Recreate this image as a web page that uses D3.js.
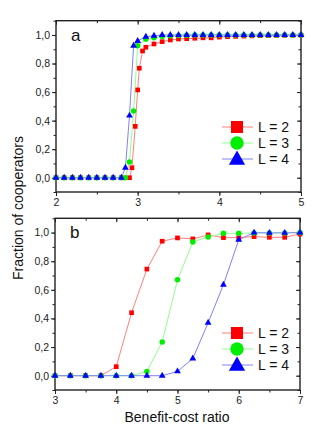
<!DOCTYPE html>
<html>
<head>
<meta charset="utf-8">
<script src="https://cdn.jsdelivr.net/npm/d3@7"></script>
<style>
  body { margin: 0; background: #fff; }
  svg { display: block; font-family: "Liberation Sans", Arial, sans-serif; }
</style>
</head>
<body>
<div id="chart"></div>
<script>
// panel a : x, then fraction for each L
var aRedX   = [2.0,2.1,2.2,2.3,2.4,2.5,2.6,2.7,2.8,2.9,2.93,2.97,3.0,3.02,3.06,3.1,3.2,3.3,3.4,3.5,3.6,3.7,3.8,3.9,4.0,4.1,4.2,4.3,4.4,4.5,4.6,4.7,4.8,4.9,5.0]
var aRedY   = [0,0,0,0,0,0,0,0,0,0,0.07,0.36,0.615,0.767,0.888,0.914,0.937,0.953,0.965,0.972,0.974,0.977,0.98,0.98,0.985,0.988,0.99,0.992,0.994,0.995,0.996,0.997,0.998,0.998,0.999]
var aGreenX = [2.0,2.1,2.2,2.3,2.4,2.5,2.6,2.7,2.8,2.85,2.9,2.95,3.0,3.1,3.2,3.3,3.4,3.5,3.6,3.7,3.8,3.9,4.0,4.1,4.2,4.3,4.4,4.5,4.6,4.7,4.8,4.9,5.0]
var aGreenY = [0,0,0,0,0,0,0,0,0,0,0.11,0.467,0.925,0.97,0.98,0.99,0.995,0.997,0.998,1,1,1,1,1,1,1,1,1,1,1,1,1,1]
var aBlueX  = [2.0,2.1,2.2,2.3,2.4,2.5,2.6,2.7,2.8,2.85,2.9,2.95,3.0,3.1,3.2,3.3,3.4,3.5,3.6,3.7,3.8,3.9,4.0,4.1,4.2,4.3,4.4,4.5,4.6,4.7,4.8,4.9,5.0]
var aBlueY  = [0,0,0,0,0,0,0,0,0,0.07,0.435,0.925,0.958,0.988,0.995,1,1,1,1,1,1,1,1,1,1,1,1,1,1,1,1,1,1]

// panel b
var bX      = [3,3.25,3.5,3.75,4,4.25,4.5,4.75,5,5.25,5.5,5.75,6,6.25,6.5,6.75,7]
var bRedY   = [0,0,0,0,0.063,0.44,0.745,0.94,0.963,0.956,0.984,0.965,0.965,0.972,0.967,0.967,0.99]
var bGreenY = [0,0,0,0,0,0,0.03,0.236,0.67,0.935,0.97,0.995,0.995,0.997,0.998,0.998,1.0]
var bBlueY  = [0,0,0,0,0,0,0,0,0.03,0.12,0.37,0.636,0.95,1.0,0.998,0.998,1.0]

var yTicks = [0,0.2,0.4,0.6,0.8,1.0]
var legendLabels = ["L = 2","L = 3","L = 4"]

var W = 336, H = 442
var svg = d3.select("#chart").append("svg").attr("width", W).attr("height", H)

var colors = ["#ff0000","#00ee00","#0000ff"]
var lineColors = ["#ff8080","#90ff90","#8080ff"]
var shapes = [d3.symbolSquare, d3.symbolCircle, d3.symbolTriangle]
var smallSize = [22, 24, 20]
var bigSize = [144, 140, 115]

var comma = function(d){ return d3.format(".1f")(d).replace(".", ",") }

function panel(opts) {
  var x = d3.scaleLinear().domain(opts.xdom).range([opts.left, opts.right])
  var y = d3.scaleLinear().domain([-0.1, 1.1]).range([opts.bottom, opts.top])
  var g = svg.append("g")

  var xMinor = d3.range(opts.xdom[0], opts.xdom[1] + 0.001, 0.5)
  var yMinor = d3.range(-0.1, 1.1001, 0.1).map(function(v){ return +v.toFixed(1) })

  // minor ticks
  g.append("g").attr("transform", "translate(0," + opts.bottom + ")")
    .call(d3.axisBottom(x).tickValues(xMinor).tickSize(2.5).tickFormat(""))
  g.append("g").attr("transform", "translate(0," + opts.top + ")")
    .call(d3.axisBottom(x).tickValues(xMinor).tickSize(2.5).tickFormat(""))
  g.append("g").attr("transform", "translate(" + opts.left + ",0)")
    .call(d3.axisLeft(y).tickValues(yMinor).tickSize(2.5).tickFormat(""))
  g.append("g").attr("transform", "translate(" + opts.right + ",0)")
    .call(d3.axisLeft(y).tickValues(yMinor).tickSize(2.5).tickFormat(""))

  // major ticks
  var xa = g.append("g").attr("transform", "translate(0," + opts.bottom + ")")
    .call(d3.axisBottom(x).ticks(opts.xdom[1] - opts.xdom[0]).tickSize(4).tickPadding(3).tickFormat(d3.format("d")))
  g.append("g").attr("transform", "translate(0," + opts.top + ")")
    .call(d3.axisBottom(x).ticks(opts.xdom[1] - opts.xdom[0]).tickSize(4).tickFormat(""))
  var ya = g.append("g").attr("transform", "translate(" + opts.left + ",0)")
    .call(d3.axisLeft(y).tickValues(yTicks).tickSize(4).tickPadding(2).tickFormat(comma))
  g.append("g").attr("transform", "translate(" + opts.right + ",0)")
    .call(d3.axisLeft(y).tickValues(yTicks).tickSize(4).tickFormat(""))

  g.selectAll(".domain").remove()
  g.selectAll(".tick line").attr("stroke", "#222").attr("stroke-width", 1)
  g.selectAll(".tick text").attr("font-size", "10.5px").attr("fill", "#222")
    .attr("font-family", "'Liberation Sans', Arial, sans-serif")

  // frame
  g.append("rect")
    .attr("x", opts.left).attr("y", opts.top)
    .attr("width", opts.right - opts.left).attr("height", opts.bottom - opts.top)
    .attr("fill", "none").attr("stroke", "#222").attr("stroke-width", 1.4)

  var line = d3.line().x(function(d){ return x(d[0]) }).y(function(d){ return y(d[1]) })

  opts.series.forEach(function(s, i) {
    var pts = s.x.map(function(v, j){ return [v, s.y[j]] })
    g.append("path").datum(pts)
      .attr("d", line).attr("fill", "none")
      .attr("stroke", lineColors[i]).attr("stroke-width", 1)
  })
  opts.series.forEach(function(s, i) {
    var pts = s.x.map(function(v, j){ return [v, s.y[j]] })
    g.selectAll(".m" + i).data(pts).enter().append("path")
      .attr("transform", function(d){ return "translate(" + x(d[0]) + "," + y(d[1]) + ")" })
      .attr("d", d3.symbol().type(shapes[i]).size(smallSize[i]))
      .attr("fill", colors[i])
  })

  // panel letter
  g.append("text").attr("x", opts.left + 15).attr("y", opts.top + 20)
    .attr("font-size", "17px").attr("fill", "#111").text(opts.letter)

  // legend
  legendLabels.forEach(function(t, i) {
    var ly = opts.legendTop + i * 16
    g.append("line").attr("x1", 222).attr("x2", 253).attr("y1", ly).attr("y2", ly)
      .attr("stroke", lineColors[i]).attr("stroke-width", 1)
    g.append("path").attr("transform", "translate(237," + (ly + (i == 2 ? 1 : 0)) + ")")
      .attr("d", d3.symbol().type(shapes[i]).size(bigSize[i]))
      .attr("fill", colors[i])
    g.append("text").attr("x", 258).attr("y", ly + 5)
      .attr("font-size", "14px").attr("fill", "#111").text(t)
  })
}

panel({ xdom: [2, 5], left: 56, right: 301, top: 20.7, bottom: 192, letter: "a", legendTop: 127,
  series: [ {x: aRedX, y: aRedY}, {x: aGreenX, y: aGreenY}, {x: aBlueX, y: aBlueY} ] })

panel({ xdom: [3, 7], left: 55, right: 300, top: 218.3, bottom: 390, letter: "b", legendTop: 333,
  series: [ {x: bX, y: bRedY}, {x: bX, y: bGreenY}, {x: bX, y: bBlueY} ] })

// axis titles
svg.append("text")
  .attr("transform", "translate(23,208) rotate(-90)")
  .attr("text-anchor", "middle").attr("font-size", "14px").attr("fill", "#111")
  .text("Fraction of cooperators")

svg.append("text")
  .attr("x", 177).attr("y", 422)
  .attr("text-anchor", "middle").attr("font-size", "14px").attr("fill", "#111")
  .text("Benefit-cost ratio")
</script>
</body>
</html>
